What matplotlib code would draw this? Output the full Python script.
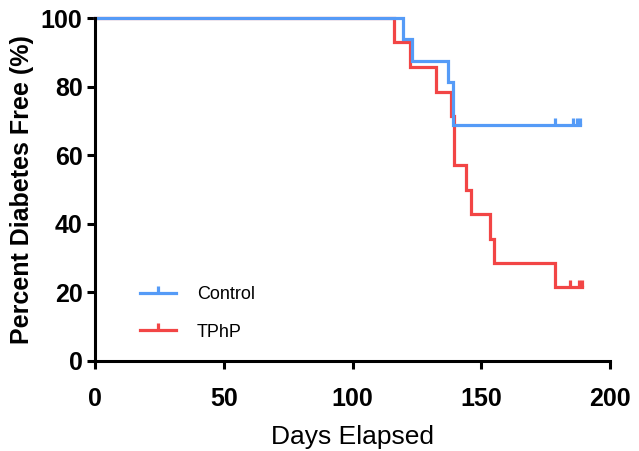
import matplotlib
matplotlib.use("Agg")
import matplotlib.pyplot as plt

plt.rcParams['font.family'] = ['Liberation Sans', 'DejaVu Sans']

# Data (Kaplan-Meier step curves)
control_t = [0, 119.5, 123.2, 137.2, 139.2, 188.3]
control_s = [100, 93.75, 87.5, 81.25, 68.75, 68.75]
control_censor_t = [178.5, 185.5, 187.0, 188.3]

tphp_t = [0, 116.2, 122.3, 132.3, 138.1, 139.5, 144.1, 146.0, 153.4, 155.0, 178.8, 189.2]
tphp_s = [100, 92.86, 85.71, 78.57, 71.43, 57.14, 50.0, 42.86, 35.71, 28.57, 21.43, 21.43]
tphp_censor_t = [184.5, 188.0, 189.2]

x_ticks = [0, 50, 100, 150, 200]
y_ticks = [0, 20, 40, 60, 80, 100]

blue = '#559BF7'
red = '#F24545'

fig = plt.figure(figsize=(6.39, 4.51), dpi=100)
ax = fig.add_axes([95/639, 1-361/451, (610-95)/639, (361-18)/451])

def surv_at(ts, ss, t):
    v = ss[0]
    for ti, si in zip(ts, ss):
        if ti <= t:
            v = si
    return v

lw = 2.3
ax.plot(tphp_t, tphp_s, drawstyle='steps-post', color=red, lw=lw, clip_on=False,
        solid_joinstyle='miter')
ax.plot(tphp_censor_t, [surv_at(tphp_t, tphp_s, t) for t in tphp_censor_t],
        ls='none', marker=2, ms=5, mew=lw, color=red, clip_on=False)
ax.plot(control_t, control_s, drawstyle='steps-post', color=blue, lw=lw, clip_on=False,
        solid_joinstyle='miter')
ax.plot(control_censor_t, [surv_at(control_t, control_s, t) for t in control_censor_t],
        ls='none', marker=2, ms=5, mew=lw, color=blue, clip_on=False)

# legend handles
h1, = ax.plot([], [], color=blue, lw=lw, marker=2, ms=5, mew=lw, label='Control')
h2, = ax.plot([], [], color=red, lw=lw, marker=2, ms=5, mew=lw, label='TPhP')
leg = ax.legend(handles=[h1, h2], loc='lower left', bbox_to_anchor=(0.056, 0.012),
                frameon=False, fontsize=13, handlelength=2.0, handletextpad=1.15,
                labelspacing=1.15, numpoints=1)

ax.set_xlim(0, 200)
ax.set_ylim(0, 100)
ax.set_xticks(x_ticks)
ax.set_yticks(y_ticks)
ax.set_xticklabels([str(v) for v in x_ticks], fontsize=18, fontweight='bold')
ax.set_yticklabels([str(v) for v in y_ticks], fontsize=18, fontweight='bold')
ax.tick_params(axis='both', direction='out', length=6, width=2.2, color='black')
ax.tick_params(axis='x', pad=13)
ax.tick_params(axis='y', pad=3)

for s in ['top', 'right']:
    ax.spines[s].set_visible(False)
for s in ['left', 'bottom']:
    ax.spines[s].set_linewidth(2.2)

ax.set_xlabel('Days Elapsed', fontsize=19, labelpad=10)
ax.set_ylabel('Percent Diabetes Free (%)', fontsize=18, fontweight='bold', labelpad=5)

fig.savefig('out.png', dpi=100)
